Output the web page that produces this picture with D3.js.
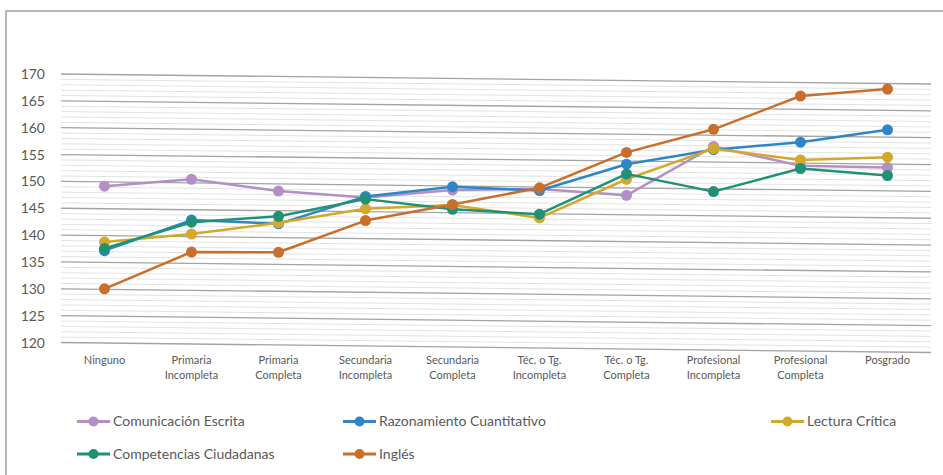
<!DOCTYPE html>
<html><head><meta charset="utf-8">
<script src="https://cdn.jsdelivr.net/npm/d3@7"></script>
<style>body{margin:0;background:#fff;} svg{display:block;}</style>
</head><body>
<svg id="chart" width="943" height="475"></svg>
<script>
const categories = [["Ninguno"],["Primaria","Incompleta"],["Primaria","Completa"],["Secundaria","Incompleta"],["Secundaria","Completa"],["Téc. o Tg.","Incompleta"],["Téc. o Tg.","Completa"],["Profesional","Incompleta"],["Profesional","Completa"],["Posgrado"]];
const seriesNames = ["Comunicación Escrita","Razonamiento Cuantitativo","Lectura Crítica","Competencias Ciudadanas","Inglés"];
const seriesColors = ["#b48ec6","#2e86c8","#d4a82a","#1f9174","#c96f2b"];
const comunicacion = [149.1,150.4,148.2,147.0,148.4,148.6,147.4,156.5,152.9,152.6];
const razonamiento = [137.1,142.8,142.1,147.2,149.0,148.3,153.2,155.9,157.3,159.6];
const lectura = [138.7,140.2,142.3,144.9,145.6,143.2,150.4,156.1,154.0,154.5];
const competencias = [137.5,142.4,143.5,146.7,144.8,143.9,151.4,148.1,152.4,151.1];
const ingles = [130.0,136.85,136.8,142.7,145.7,148.8,155.4,159.7,165.9,167.2];
const yTicks = [120,125,130,135,140,145,150,155,160,165,170];
const allSeries = [comunicacion, razonamiento, lectura, competencias, ingles];

const svg = d3.select("#chart");
const font = "Lato, 'Open Sans', sans-serif";
const left = 61, right = 931, slant = 10;

// outer border
svg.append("path").attr("d","M6,476 L6,11 L944,11").attr("fill","none").attr("stroke","#a0a0a0").attr("stroke-width",1.5);

const x = d3.scaleBand().domain(d3.range(categories.length)).range([left,right]);
const y = d3.scaleLinear().domain([120,170]).range([342.5,74]);

// minor gridlines
const minor = d3.range(120,171,1).filter(v=>v%5!==0);
svg.append("g").selectAll("line").data(minor).join("line")
  .attr("x1",left).attr("x2",right)
  .attr("y1",d=>y(d)).attr("y2",d=>y(d)+slant)
  .attr("stroke","#e3e3e3").attr("stroke-width",1);
// major gridlines
svg.append("g").selectAll("line").data(yTicks).join("line")
  .attr("x1",left).attr("x2",right)
  .attr("y1",d=>y(d)).attr("y2",d=>y(d)+slant)
  .attr("stroke","#a3a3a3").attr("stroke-width",1.3);

// y labels
svg.append("g").selectAll("text").data(yTicks).join("text")
  .attr("x",45).attr("y",d=>y(d)).attr("dy","0.36em").attr("text-anchor","end")
  .attr("font-family",font).attr("font-size",14).attr("fill","#595959").text(d=>d);

// x labels
const xl = svg.append("g").selectAll("text").data(categories).join("text")
  .attr("x",(d,i)=>x(i)+x.bandwidth()/2).attr("y",360).attr("text-anchor","middle")
  .attr("font-family",font).attr("font-size",11).attr("fill","#595959");
xl.selectAll("tspan").data(d=>d).join("tspan")
  .attr("x",function(){return d3.select(this.parentNode).attr("x");})
  .attr("dy",(d,i)=>i===0?"0.35em":"15px").text(d=>d);

// series
const line = d3.line().x((d,i)=>x(i)+x.bandwidth()/2).y(d=>y(d));
allSeries.forEach((s,k)=>{
  const g = svg.append("g");
  g.append("path").datum(s).attr("d",line).attr("fill","none")
    .attr("stroke",seriesColors[k]).attr("stroke-width",2.5).attr("stroke-linejoin","round");
  g.selectAll("circle").data(s).join("circle")
    .attr("cx",(d,i)=>x(i)+x.bandwidth()/2).attr("cy",d=>y(d)).attr("r",5.5)
    .attr("fill",seriesColors[k]);
});

// legend
const legendPos = [[77,421.5],[343,421.5],[771,421.5],[77,454],[343,454]];
seriesNames.forEach((n,k)=>{
  const [lx,ly] = legendPos[k];
  const g = svg.append("g");
  g.append("line").attr("x1",lx).attr("x2",lx+33).attr("y1",ly).attr("y2",ly)
    .attr("stroke",seriesColors[k]).attr("stroke-width",3);
  g.append("circle").attr("cx",lx+16.5).attr("cy",ly).attr("r",5).attr("fill",seriesColors[k]);
  g.append("text").attr("x",lx+36).attr("y",ly).attr("dy","0.35em")
    .attr("font-family",font).attr("font-size",14).attr("fill","#595959").text(n);
});
</script>
</body></html>
